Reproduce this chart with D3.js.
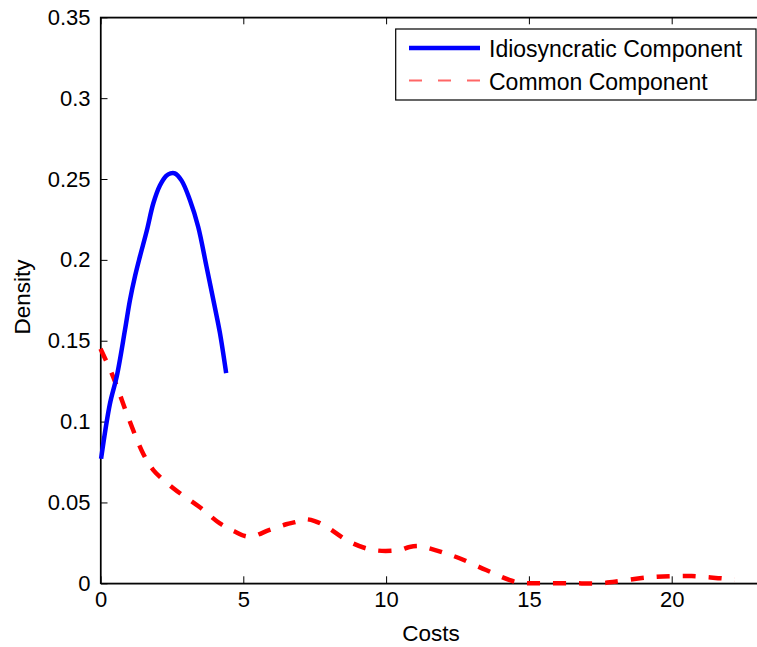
<!DOCTYPE html>
<html>
<head>
<meta charset="utf-8">
<script src="https://cdn.jsdelivr.net/npm/d3@7"></script>
<style>
  body { margin: 0; background: #fff; overflow: hidden; }
  text { font-family: "Liberation Sans", Arial, sans-serif; fill: #000; }
</style>
</head>
<body>
<div id="chart"></div>
<script>
var fullWidth = 757;
var fullHeight = 647;
var margin = {top: 17.3, left: 100.5};
var width = 714;   // axes run past the right edge of the picture
var height = 566;

// data
var idioX = [0.02, 0.33, 0.57, 0.86, 1.03, 1.21, 1.38, 1.62, 1.85, 2.08, 2.3, 2.45, 2.6, 2.84, 3.13, 3.42, 3.71, 4.0, 4.18, 4.4];
var idioY = [0.077, 0.111, 0.128, 0.157, 0.175, 0.190, 0.202, 0.218, 0.235, 0.246, 0.252, 0.2535, 0.2535, 0.249, 0.237, 0.2205, 0.196, 0.171, 0.155, 0.130];

var commonX = [0, 0.39, 0.62, 0.92, 1.5, 1.85, 2.55, 3.48, 4.18, 4.7, 5.2, 5.92, 6.5, 6.86, 7.15, 7.5, 7.91, 8.72, 9.54, 10.47, 10.82, 11.2, 11.52, 12.0, 12.57, 13.5, 14.33, 14.7, 15.5, 16.5, 17.5, 18.0, 19.1, 20.15, 20.7, 21.3, 21.8, 22.2];
var commonY = [0.145, 0.130, 0.1195, 0.105, 0.080, 0.070, 0.0588, 0.047, 0.037, 0.032, 0.0288, 0.033, 0.0365, 0.038, 0.0396, 0.0385, 0.035, 0.0257, 0.0206, 0.0206, 0.0225, 0.023, 0.0216, 0.019, 0.0155, 0.0082, 0.002, 0.0003, 0, 0, 0, 0.001, 0.0035, 0.0045, 0.0045, 0.0037, 0.003, 0.0022];

var xTicks = [0, 5, 10, 15, 20];
var yTicks = [0, 0.05, 0.1, 0.15, 0.2, 0.25, 0.3, 0.35];
var seriesNames = ["Idiosyncratic Component", "Common Component"];

var svg = d3.select("#chart")
  .append("svg")
  .attr("width", fullWidth)
  .attr("height", fullHeight)
  .style("display", "block");

var g = svg.append("g")
  .attr("transform", "translate(" + margin.left + "," + margin.top + ")");

var xScale = d3.scaleLinear().domain([0, 25]).range([0, width]);
var yScale = d3.scaleLinear().domain([0, 0.35]).range([height, 0]);

// axes box
g.append("rect")
  .attr("width", width).attr("height", height)
  .attr("fill", "none").attr("stroke", "#000").attr("stroke-width", 1.2);

// inward ticks, bottom/left with labels, top/right plain
var xAxis = d3.axisBottom(xScale).tickValues(xTicks).tickSizeInner(-7).tickSizeOuter(0).tickPadding(8);
var yAxis = d3.axisLeft(yScale).tickValues(yTicks).tickSizeInner(-7).tickSizeOuter(0).tickPadding(10)
  .tickFormat(function(d) { return d3.format("")(+d.toFixed(2)); });

var gx = g.append("g").attr("transform", "translate(0," + height + ")").call(xAxis);
var gy = g.append("g").call(yAxis);
g.append("g").call(d3.axisTop(xScale).tickValues(xTicks).tickSizeInner(-7).tickSizeOuter(0).tickFormat(""));
g.append("g").attr("transform", "translate(" + width + ",0)")
  .call(d3.axisRight(yScale).tickValues(yTicks).tickSizeInner(-7).tickSizeOuter(0).tickFormat(""));

g.selectAll(".domain").attr("stroke", "#000").attr("stroke-width", 1.2);
g.selectAll(".tick line").attr("stroke", "#000");
gx.selectAll("text").attr("font-size", 22).attr("font-family", "Liberation Sans, Arial, sans-serif");
gy.selectAll("text").attr("font-size", 22).attr("font-family", "Liberation Sans, Arial, sans-serif");

var line = d3.line()
  .x(function(d) { return xScale(d[0]); })
  .y(function(d) { return yScale(d[1]); })
  .curve(d3.curveCatmullRom);

g.append("path")
  .datum(d3.zip(commonX, commonY))
  .attr("d", line)
  .attr("fill", "none")
  .attr("stroke", "#ff0000")
  .attr("stroke-width", 4.5)
  .attr("stroke-dasharray", "13,13");

g.append("path")
  .datum(d3.zip(idioX, idioY))
  .attr("d", line)
  .attr("fill", "none")
  .attr("stroke", "#0000ff")
  .attr("stroke-width", 4.5)
  .attr("stroke-linejoin", "round");

// axis labels
svg.append("text")
  .attr("x", 431).attr("y", 641)
  .attr("text-anchor", "middle").attr("font-size", 22.5)
  .text("Costs");

svg.append("text")
  .attr("transform", "translate(30," + 297 + ") rotate(-90)")
  .attr("text-anchor", "middle").attr("font-size", 22.5)
  .text("Density");

// legend
var legend = svg.append("g");
legend.append("rect")
  .attr("x", 395.7).attr("y", 29).attr("width", 360.3).attr("height", 71)
  .attr("fill", "#fff").attr("stroke", "#000").attr("stroke-width", 1.2);

legend.append("line")
  .attr("x1", 409).attr("x2", 480).attr("y1", 48).attr("y2", 48)
  .attr("stroke", "#0000ff").attr("stroke-width", 4.5);
legend.append("line")
  .attr("x1", 409).attr("x2", 480).attr("y1", 80.5).attr("y2", 80.5)
  .attr("stroke", "#ff6666").attr("stroke-width", 2)
  .attr("stroke-dasharray", "13,16");

legend.selectAll("text.lab")
  .data(seriesNames)
  .enter().append("text")
  .attr("class", "lab")
  .attr("x", 489).attr("y", function(d, i) { return 57 + i * 33; })
  .attr("font-size", 23)
  .text(function(d) { return d; });
</script>
</body>
</html>
